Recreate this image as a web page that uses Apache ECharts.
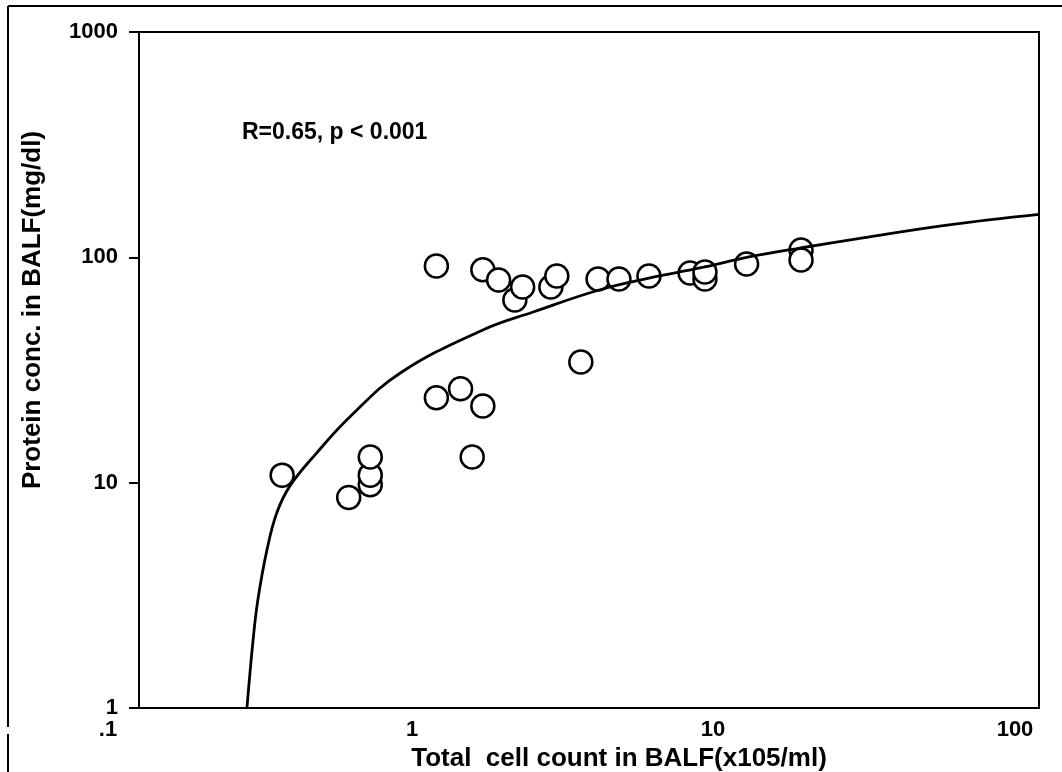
<!DOCTYPE html>
<html>
<head>
<meta charset="utf-8">
<script src="https://cdn.jsdelivr.net/npm/echarts@6/dist/echarts.min.js"></script>
<style>
html,body{margin:0;padding:0;background:#fff;}
#chart{width:1062px;height:772px;}
</style>
</head>
<body>
<div id="chart"></div>
<script>
// Data (x: total cell count, y: protein conc.)
var cellCount = [0.30, 0.50, 0.59, 0.59, 0.59, 0.98, 0.98, 1.18, 1.29, 1.40, 1.40, 1.58, 1.79, 1.90, 2.36, 2.47, 2.97, 3.39, 3.98, 5.01, 6.87, 7.7, 7.7, 10.6, 16.1, 16.1];
var protein   = [10.8, 8.6, 9.8, 10.8, 13.0, 91.6, 23.8, 26.1, 13.0, 21.9, 88, 79.4, 64.7, 73.9, 73.9, 82.7, 34.3, 80.2, 80.2, 82.7, 85.3, 80.2, 86, 93.5, 107.9, 97.3];

// Fitted regression curve
var curveX = [0.229, 0.240, 0.249, 0.267, 0.288, 0.319, 0.392, 0.505, 0.741, 1.40, 2.06, 3.44, 5.05, 7.41, 10.9, 16.0, 25.9, 49.4, 100];
var curveY = [1.0, 2.0, 3.02, 5.03, 7.35, 9.7, 13.6, 19.6, 30.6, 47.6, 57.2, 71.8, 81.0, 89.7, 100.6, 110, 122, 139, 155];

var xTickValues = [0.1, 1, 10, 100];
var xTickLabels = ['.1', '1', '10', '100'];
var yTickValues = [1, 10, 100, 1000];
var yTickLabels = ['1', '10', '100', '1000'];

var xTitle = 'Total  cell count in BALF(x105/ml)';
var yTitle = 'Protein conc. in BALF(mg/dl)';
var note = 'R=0.65, p < 0.001';

var FONT = '"Liberation Sans", Arial, Helvetica, sans-serif';

var scatterData = cellCount.map(function (v, i) { return [v, protein[i]]; });
var curveData = curveX.map(function (v, i) { return [v, curveY[i]]; });

function labelFor(values, labels, v) {
  for (var i = 0; i < values.length; i++) {
    if (Math.abs(Math.log10(v) - Math.log10(values[i])) < 1e-6) return labels[i];
  }
  return '';
}
// left shift of the x tick labels in the reference (px)
var xShift = {'.1': 62, '1': 54, '10': 52, '100': 48};
function richStyle(p) {
  return {fontFamily: FONT, fontWeight: 'bold', fontSize: 22, color: '#000', padding: [0, p, 0, 0]};
}

var chart = echarts.init(document.getElementById('chart'), null, {renderer: 'canvas'});
chart.setOption({
  backgroundColor: '#fff',
  animation: false,
  grid: {left: 139, right: 23, top: 32, bottom: 64, containLabel: false, outerBoundsMode: 'none',
         show: true, borderColor: '#000', borderWidth: 2, backgroundColor: 'transparent'},
  xAxis: {
    type: 'log', logBase: 10, min: 0.1, max: 100,
    name: xTitle, nameLocation: 'middle', nameGap: 34,
    nameTextStyle: {fontFamily: FONT, fontWeight: 'bold', fontSize: 26, color: '#000', padding: [0, 0, 0, 60]},
    axisLine: {show: true, lineStyle: {color: '#000', width: 2}},
    axisTick: {show: false},
    splitLine: {show: false},
    minorTick: {show: false},
    axisLabel: {
      margin: 11, color: '#000', fontFamily: FONT, fontWeight: 'bold', fontSize: 22,
      formatter: function (v) {
        var t = labelFor(xTickValues, xTickLabels, v);
        if (!t) return '';
        return '{s' + xShift[t] + '|' + t + '}';
      },
      rich: {s62: richStyle(62), s54: richStyle(54), s52: richStyle(52), s48: richStyle(48)}
    }
  },
  yAxis: {
    type: 'log', logBase: 10, min: 1, max: 1000,
    name: yTitle, nameLocation: 'middle', nameGap: 93, nameRotate: 90,
    nameTextStyle: {fontFamily: FONT, fontWeight: 'bold', fontSize: 26, color: '#000', padding: [0, 0, 0, 120]},
    axisLine: {show: true, lineStyle: {color: '#000', width: 2}},
    axisTick: {show: true, inside: false, length: 10, lineStyle: {color: '#000', width: 2}},
    splitLine: {show: false},
    axisLabel: {
      margin: 21, color: '#000', fontFamily: FONT, fontWeight: 'bold', fontSize: 22,
      formatter: function (v) { return labelFor(yTickValues, yTickLabels, v); }
    }
  },
  graphic: [
    {type: 'text', left: 242, top: 121, z: 10,
     style: {text: note, fontFamily: FONT, fontWeight: 'bold', fontSize: 23, fill: '#000'}},
    {type: 'line', shape: {x1: 8, y1: 6, x2: 8, y2: 727}, style: {stroke: '#000', lineWidth: 2}},
    {type: 'line', shape: {x1: 8, y1: 734, x2: 8, y2: 772}, style: {stroke: '#000', lineWidth: 2}},
    {type: 'line', shape: {x1: 8, y1: 6, x2: 1062, y2: 6}, style: {stroke: '#000', lineWidth: 2}}
  ],
  series: [
    {
      type: 'scatter', data: scatterData, z: 2,
      symbol: 'circle', symbolSize: 23,
      itemStyle: {color: '#fff', borderColor: '#000', borderWidth: 2.5, opacity: 1}
    },
    {
      type: 'line', data: curveData, z: 3,
      smooth: 0.4, showSymbol: false, symbol: 'none',
      lineStyle: {color: '#000', width: 2.8}
    }
  ]
});
</script>
</body>
</html>
